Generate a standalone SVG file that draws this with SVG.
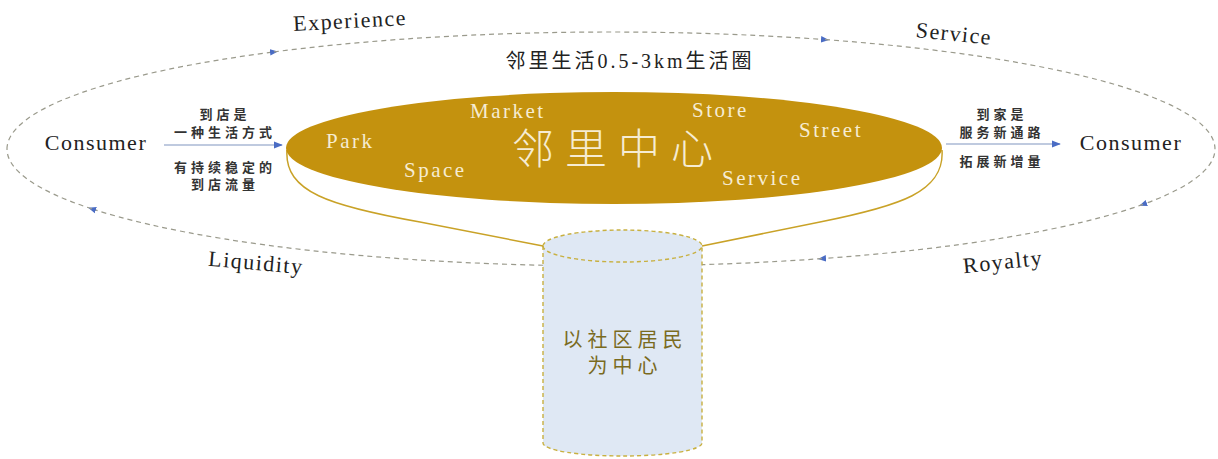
<svg xmlns="http://www.w3.org/2000/svg" width="1218" height="459" viewBox="0 0 1218 459">
<defs>
<style>
.lbl{font-family:"Liberation Serif","Noto Sans CJK SC",serif;fill:#222;font-size:22px;letter-spacing:1.5px}
.cn{font-family:"Liberation Serif","Noto Sans CJK SC",sans-serif;fill:#333;font-size:13px;font-weight:bold;text-anchor:middle;letter-spacing:4px}
.gold{font-family:"Liberation Serif","Noto Sans CJK SC",serif;fill:#f6ecd2;font-size:21px;letter-spacing:2.5px}
.cyl{font-family:"Liberation Serif","Noto Sans CJK SC",sans-serif;font-size:20px;fill:#7a6b1e;letter-spacing:5px;text-anchor:middle}
.orbit{fill:none;stroke:#9a9a8c;stroke-width:1.2;stroke-dasharray:5 4;marker-end:url(#ah)}
.feed{stroke:#aab8d4;stroke-width:1.5;fill:none;marker-end:url(#ah2)}
</style>
<marker id="ah" viewBox="0 0 10 10" refX="5" refY="5" markerWidth="8" markerHeight="8" markerUnits="userSpaceOnUse" orient="auto"><path d="M0,1 L10,5 L0,9 Z" fill="#4a6cc4"/></marker>
<marker id="ah2" viewBox="0 0 10 10" refX="9" refY="5" markerWidth="9" markerHeight="9" markerUnits="userSpaceOnUse" orient="auto"><path d="M0,1 L10,5 L0,9 Z" fill="#4a6cc4"/></marker>
</defs>
<rect width="1218" height="459" fill="#fff"/>
<g id="connectors">
<path class="orbit" d="M7,149 A604,117 0 0 1 274,51.9"/>
<path class="orbit" d="M274,51.9 A604,117 0 0 1 825,39.6"/>
<path class="orbit" d="M825,39.6 A604,117 0 0 1 1143,204.4"/>
<path class="orbit" d="M1143,204.4 A604,117 0 0 1 822,258.6"/>
<path class="orbit" d="M822,258.6 A604,117 0 0 1 92,208.9"/>
<path class="orbit" d="M92,208.9 A604,117 0 0 1 7,149" style="marker-end:none"/>
<line class="feed" x1="164" y1="145" x2="282" y2="145"/>
<line class="feed" x1="946" y1="144" x2="1060" y2="144"/>
</g>
<g id="orbit-labels">
<text class="lbl" x="350" y="28" text-anchor="middle" transform="rotate(-3 350 21)">Experience</text>
<text class="lbl" x="954" y="41" text-anchor="middle" transform="rotate(6 954 34)">Service</text>
<text class="lbl" x="256" y="270" text-anchor="middle" transform="rotate(5 256 263)">Liquidity</text>
<text class="lbl" x="1003" y="269" text-anchor="middle" transform="rotate(-6 1003 262)">Royalty</text>
<text x="630" y="68" text-anchor="middle" style="font-family:'Liberation Serif','Noto Sans CJK SC',serif;fill:#222;font-size:20px;letter-spacing:3px">邻里生活0.5-3km生活圈</text>
</g>
<g id="consumer-left">
<text class="lbl" x="96" y="150" text-anchor="middle">Consumer</text>
</g>
<g id="consumer-right">
<text class="lbl" x="1131" y="150" text-anchor="middle">Consumer</text>
</g>
<g id="left-notes">
<text class="cn" x="225" y="119">到店是</text>
<text class="cn" x="225" y="137">一种生活方式</text>
<text class="cn" x="225" y="172">有持续稳定的</text>
<text class="cn" x="225" y="189">到店流量</text>
</g>
<g id="right-notes">
<text class="cn" x="1002" y="119">到家是</text>
<text class="cn" x="1002" y="137">服务新通路</text>
<text class="cn" x="1002" y="166">拓展新增量</text>
</g>
<g id="cylinder">
<path d="M543,246 L543,443 A79.5,13 0 0 0 702,443 L702,246 A79.5,16 0 0 0 543,246 Z" fill="#dfe8f4" stroke="#c8b040" stroke-width="1.4" stroke-dasharray="4 3"/>
<path d="M543,246 A79.5,16 0 0 0 702,246" fill="none" stroke="#c8b040" stroke-width="1.4" stroke-dasharray="4 3"/>
<text class="cyl" x="625" y="347">以社区居民</text>
<text class="cyl" x="625" y="373">为中心</text>
</g>
<g id="center">
<path d="M287,150 C284,192 330,206 420,222 L543,246 M942,150 C945,192 900,206 820,222 L702,246" fill="none" stroke="#c9a227" stroke-width="1.5"/>
<ellipse cx="614" cy="148" rx="328" ry="56" fill="#c4920e"/>
<text class="gold" x="326" y="148">Park</text>
<text class="gold" x="470" y="118">Market</text>
<text class="gold" x="692" y="117">Store</text>
<text class="gold" x="799" y="137">Street</text>
<text class="gold" x="404" y="177">Space</text>
<text class="gold" x="722" y="185">Service</text>
<text x="618" y="164" text-anchor="middle" style="font-family:'Liberation Serif','Noto Sans CJK SC',sans-serif;font-size:42px;fill:#f6ecd2;letter-spacing:11px;font-weight:300">邻里中心</text>
</g>
</svg>
